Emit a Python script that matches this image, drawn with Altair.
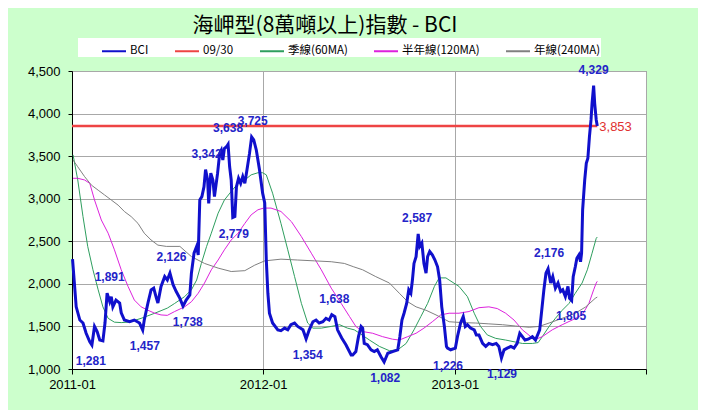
import altair as alt
import pandas as pd

BASE = pd.Timestamp("2011-01-01")

# (days since 2011-01-01, index value)
bci = [(1,2290),(5,1970),(8,1730),(15,1575),(21,1540),(27,1420),(34,1320),(38,1281),(43,1500),(48,1440),
       (53,1340),(59,1330),(63,1540),(67,1891),(72,1790),(75,1850),(78,1730),(84,1810),(91,1775),(94,1660),
       (100,1575),(110,1555),(119,1575),(129,1540),(135,1457),(138,1575),(145,1775),(151,1930),(156,1950),
       (161,1835),(164,1775),(170,1970),(177,2085),(182,2045),(187,2126),(193,1990),(199,1910),(206,1830),
       (212,1738),(218,1810),(225,1870),(228,2125),(233,2360),(238,2440),(241,2340),(244,2985),(248,3025),
       (252,3140),(255,3342),(259,3220),(261,2945),(265,3300),(269,3220),(272,3025),(278,3300),(282,3535),
       (285,3570),(288,3455),(291,3590),(295,3610),(298,3638),(301,3375),(304,3220),(307,2779),(311,2790),
       (314,3140),(318,3240),(322,3180),(326,3260),(330,3180),(335,3375),(339,3535),(343,3725),(347,3690),
       (352,3570),(358,3340),(364,3065),(368,2950),(371,2280),(374,1890),(377,1655),(383,1540),(393,1460),
       (399,1450),(406,1480),(412,1460),(418,1520),(425,1540),(431,1500),(441,1460),(447,1354),(453,1460),
       (460,1555),(466,1575),(472,1540),(479,1555),(485,1595),(491,1575),(496,1638),(502,1615),(507,1460),
       (515,1365),(523,1285),(533,1165),(536,1165),(542,1205),(547,1380),(552,1500),(555,1480),(558,1300),
       (564,1285),(571,1225),(577,1205),(583,1225),(590,1145),(596,1082),(603,1185),(612,1205),(622,1225),
       (626,1380),(630,1575),(634,1655),(639,1770),(643,1930),(647,1890),(650,2045),(653,2240),(657,2320),
       (661,2587),(664,2440),(668,2480),(672,2240),(676,2125),(679,2320),(683,2380),(688,2340),(693,2280),
       (698,2200),(702,2045),(706,1730),(711,1500),(715,1265),(717,1245),(723,1226),(732,1245),(736,1380),
       (742,1540),(747,1615),(751,1500),(755,1520),(761,1480),(768,1460),(772,1400),(777,1400),(784,1300),
       (790,1265),(796,1300),(803,1285),(810,1300),(815,1265),(820,1129),(825,1225),(831,1245),(838,1265),
       (844,1245),(850,1300),(855,1420),(860,1380),(865,1340),(871,1350),(879,1380),(885,1340),(893,1460),
       (897,1695),(901,1930),(905,2125),(909,2176),(914,2010),(918,2085),(923,1950),(928,2010),(933,1910),
       (937,1930),(942,1850),(947,1970),(950,1830),(954,1805),(957,2085),(961,2200),(964,2300),(968,2340),
       (971,2260),(973,2360),(975,2870),(979,3220),(982,3415),(985,3475),(988,3730),(991,3925),(993,4120),
       (996,4329),(998,4120),(1001,3925),(1003,3853)]

ma60 = [(2,3515),(11,3220),(21,2790),(30,2440),(40,2165),(50,1930),(59,1730),(69,1595),(81,1550),(94,1545),
        (107,1550),(119,1570),(132,1595),(145,1625),(158,1655),(170,1685),(182,1715),(196,1770),(215,1850),
        (228,1930),(238,2045),(247,2240),(257,2440),(266,2595),(279,2830),(291,2985),(304,3085),(317,3180),
        (330,3220),(342,3280),(355,3305),(364,3305),(371,3280),(383,3065),(399,2710),(412,2400),(425,2085),
        (438,1770),(450,1540),(460,1480),(476,1480),(495,1500),(511,1520),(526,1480),(539,1460),(549,1420),
        (568,1340),(587,1265),(606,1215),(622,1225),(638,1300),(653,1460),(666,1615),(679,1770),(692,1970),
        (701,2070),(714,2070),(720,2045),(739,1970),(755,1850),(768,1655),(780,1500),(793,1400),(809,1360),
        (828,1340),(844,1320),(860,1300),(879,1300),(890,1310),(898,1380),(911,1500),(923,1595),(936,1690),
        (949,1770),(961,1890),(974,2010),(984,2165),(993,2360),(1001,2535),(1003,2550)]

ma120 = [(2,3240),(11,3240),(24,3220),(34,3180),(43,2985),(56,2750),(69,2595),(81,2400),(94,2165),(107,1970),
         (119,1810),(132,1730),(145,1690),(158,1655),(170,1635),(182,1630),(196,1675),(215,1730),(228,1790),
         (241,1890),(253,2010),(266,2165),(279,2280),(291,2400),(304,2515),(317,2595),(330,2710),(342,2810),
         (355,2870),(366,2890),(380,2890),(399,2850),(419,2730),(438,2555),(457,2360),(476,2165),(495,1950),
         (514,1770),(530,1615),(542,1500),(555,1440),(574,1420),(593,1380),(612,1350),(625,1340),(641,1380),
         (657,1420),(672,1480),(688,1555),(704,1635),(720,1655),(739,1655),(758,1675),(777,1720),(796,1730),
         (812,1710),(828,1655),(844,1575),(860,1460),(876,1380),(890,1360),(898,1380),(917,1460),(936,1520),
         (955,1575),(974,1635),(987,1770),(996,1930),(1001,2010),(1003,2030)]

ma240 = [(2,3455),(11,3375),(24,3260),(37,3160),(50,3100),(62,3045),(75,2985),(88,2925),(100,2850),(113,2790),
         (126,2710),(138,2595),(151,2515),(164,2455),(180,2440),(206,2440),(228,2320),(253,2240),(279,2185),
         (304,2145),(330,2155),(349,2220),(368,2270),(399,2290),(431,2280),(463,2270),(495,2260),(520,2240),
         (538,2200),(555,2165),(580,2085),(606,2010),(625,1890),(641,1790),(657,1730),(676,1690),(695,1635),
         (714,1575),(720,1555),(745,1545),(771,1540),(796,1530),(822,1520),(847,1505),(873,1490),(892,1500),
         (911,1540),(936,1595),(961,1655),(981,1730),(999,1830),(1003,1845)]

ref_level = 3853
ref_days = [0, 1003]

# labelled peaks / troughs: (text, day, value, position)
peak_labels = [("1,281",36,1281,"below"),("1,891",72,1891,"above"),("1,457",139,1457,"below"),
               ("2,126",190,2126,"above"),("1,738",221,1738,"below"),("3,342",257,3342,"above"),
               ("3,638",298,3638,"above"),("3,725",345,3725,"above"),("2,779",309,2779,"below"),
               ("1,354",450,1354,"below"),("1,638",501,1638,"above"),("1,082",598,1082,"below"),
               ("2,587",659,2587,"above"),("1,226",718,1226,"below"),("1,129",821,1129,"below"),
               ("2,176",911,2176,"above"),("1,805",953,1805,"below"),("4,329",996,4329,"above")]
ref_label = ("3,853", 1003, 3853)

SERIES = ["BCI", "09/30", "季線(60MA)", "半年線(120MA)", "年線(240MA)"]
COLORS = ["#1010CC", "#EE4444", "#2E9E5E", "#DD22DD", "#808080"]
Y_TICKS = [1000, 1250, 1500, 1750, 2000, 2250, 2500, 2750, 3000, 3250, 3500, 3750, 4000, 4250, 4500]
TITLE = "海岬型(8萬噸以上)指數 - BCI"

def frame(pairs, name):
    d = pd.DataFrame(pairs, columns=["day", "value"])
    d["date"] = BASE + pd.to_timedelta(d["day"], unit="D")
    d["series"] = name
    return d[["date", "value", "series"]]

ma_df = pd.concat([frame(ma60, SERIES[2]), frame(ma120, SERIES[3]), frame(ma240, SERIES[4])])
bci_df = frame(bci, SERIES[0])
ref_df = frame([(d, ref_level) for d in ref_days], SERIES[1])

lab_df = pd.DataFrame(peak_labels, columns=["text", "day", "value", "pos"])
lab_df["date"] = BASE + pd.to_timedelta(lab_df["day"], unit="D")
reflab_df = pd.DataFrame([ref_label], columns=["text", "day", "value"])
reflab_df["date"] = BASE + pd.to_timedelta(reflab_df["day"], unit="D")

x_enc = alt.X("date:T",
              scale=alt.Scale(domain=[alt.DateTime(year=2011, month=1, date=1),
                                      alt.DateTime(year=2014, month=1, date=1)]),
              axis=alt.Axis(values=[alt.DateTime(year=y, month=1, date=1) for y in (2011, 2012, 2013, 2014)],
                            labelExpr="year(datum.value) >= 2014 ? '' : timeFormat(datum.value, '%Y-%m')",
                            grid=True, gridColor="#A8A8A8", domainColor="black", tickColor="black",
                            tickSize=5, labelPadding=4, labelFont="Liberation Sans", labelFontSize=13,
                            labelColor="black", labelFlush=False, labelOverlap=False, title=None))
y_enc = alt.Y("value:Q", scale=alt.Scale(domain=[1000, 4500], nice=False, zero=False),
              axis=alt.Axis(values=Y_TICKS, format=",.0f", grid=True, gridColor="#A8A8A8",
                            domainColor="black", tickColor="black", tickSize=4, labelPadding=8,
                            labelFont="Liberation Sans", labelFontSize=13, labelColor="black", title=None))
color_enc = alt.Color("series:N", scale=alt.Scale(domain=SERIES, range=COLORS),
                      legend=alt.Legend(title="\u3000", titleOrient="left", titlePadding=23,
                                        titleFontSize=12, orient="none", legendX=6, legendY=-33,
                                        direction="horizontal", fillColor="white", padding=0,
                                        symbolType="stroke", symbolSize=576, symbolStrokeWidth=2,
                                        labelFont="Noto Sans CJK TC", labelFontSize=11.5,
                                        labelColor="black", columnPadding=22, labelOffset=3))

ma_layer = alt.Chart(ma_df).mark_line(strokeWidth=1).encode(x=x_enc, y=y_enc, color=color_enc, detail="series:N")
ref_layer = alt.Chart(ref_df).mark_line(strokeWidth=2.5).encode(x=x_enc, y=y_enc, color=color_enc)
bci_layer = alt.Chart(bci_df).mark_line(strokeWidth=3).encode(x=x_enc, y=y_enc, color=color_enc)

lab_font = dict(font="Liberation Sans", fontSize=12, fontWeight="bold", color="#2424C8")
above = alt.Chart(lab_df).transform_filter(alt.datum.pos == "above").mark_text(dy=-16, **lab_font).encode(
    x="date:T", y="value:Q", text="text:N")
below = alt.Chart(lab_df).transform_filter(alt.datum.pos == "below").mark_text(dy=16, **lab_font).encode(
    x="date:T", y="value:Q", text="text:N")
ref_text = alt.Chart(reflab_df).mark_text(align="left", dx=2, dy=1, font="Liberation Sans", fontSize=13,
                                          color="#E03030").encode(x="date:T", y="value:Q", text="text:N")

chart = alt.layer(ma_layer, ref_layer, bci_layer, above, below, ref_text).properties(
    width=574, height=298,
    title=alt.TitleParams(TITLE, font="Noto Sans CJK TC", fontSize=21, fontWeight="normal",
                          color="black", anchor="middle", dx=-34, offset=2),
    background="#CCFFCC",
    padding={"left": 64, "top": 63, "right": 52, "bottom": 41},
    autosize=alt.AutoSizeParams(type="none"),
).configure_view(fill="white", stroke="#808080", strokeWidth=1)

chart.save("out.html", embed_options={"renderer": "svg", "actions": False})
